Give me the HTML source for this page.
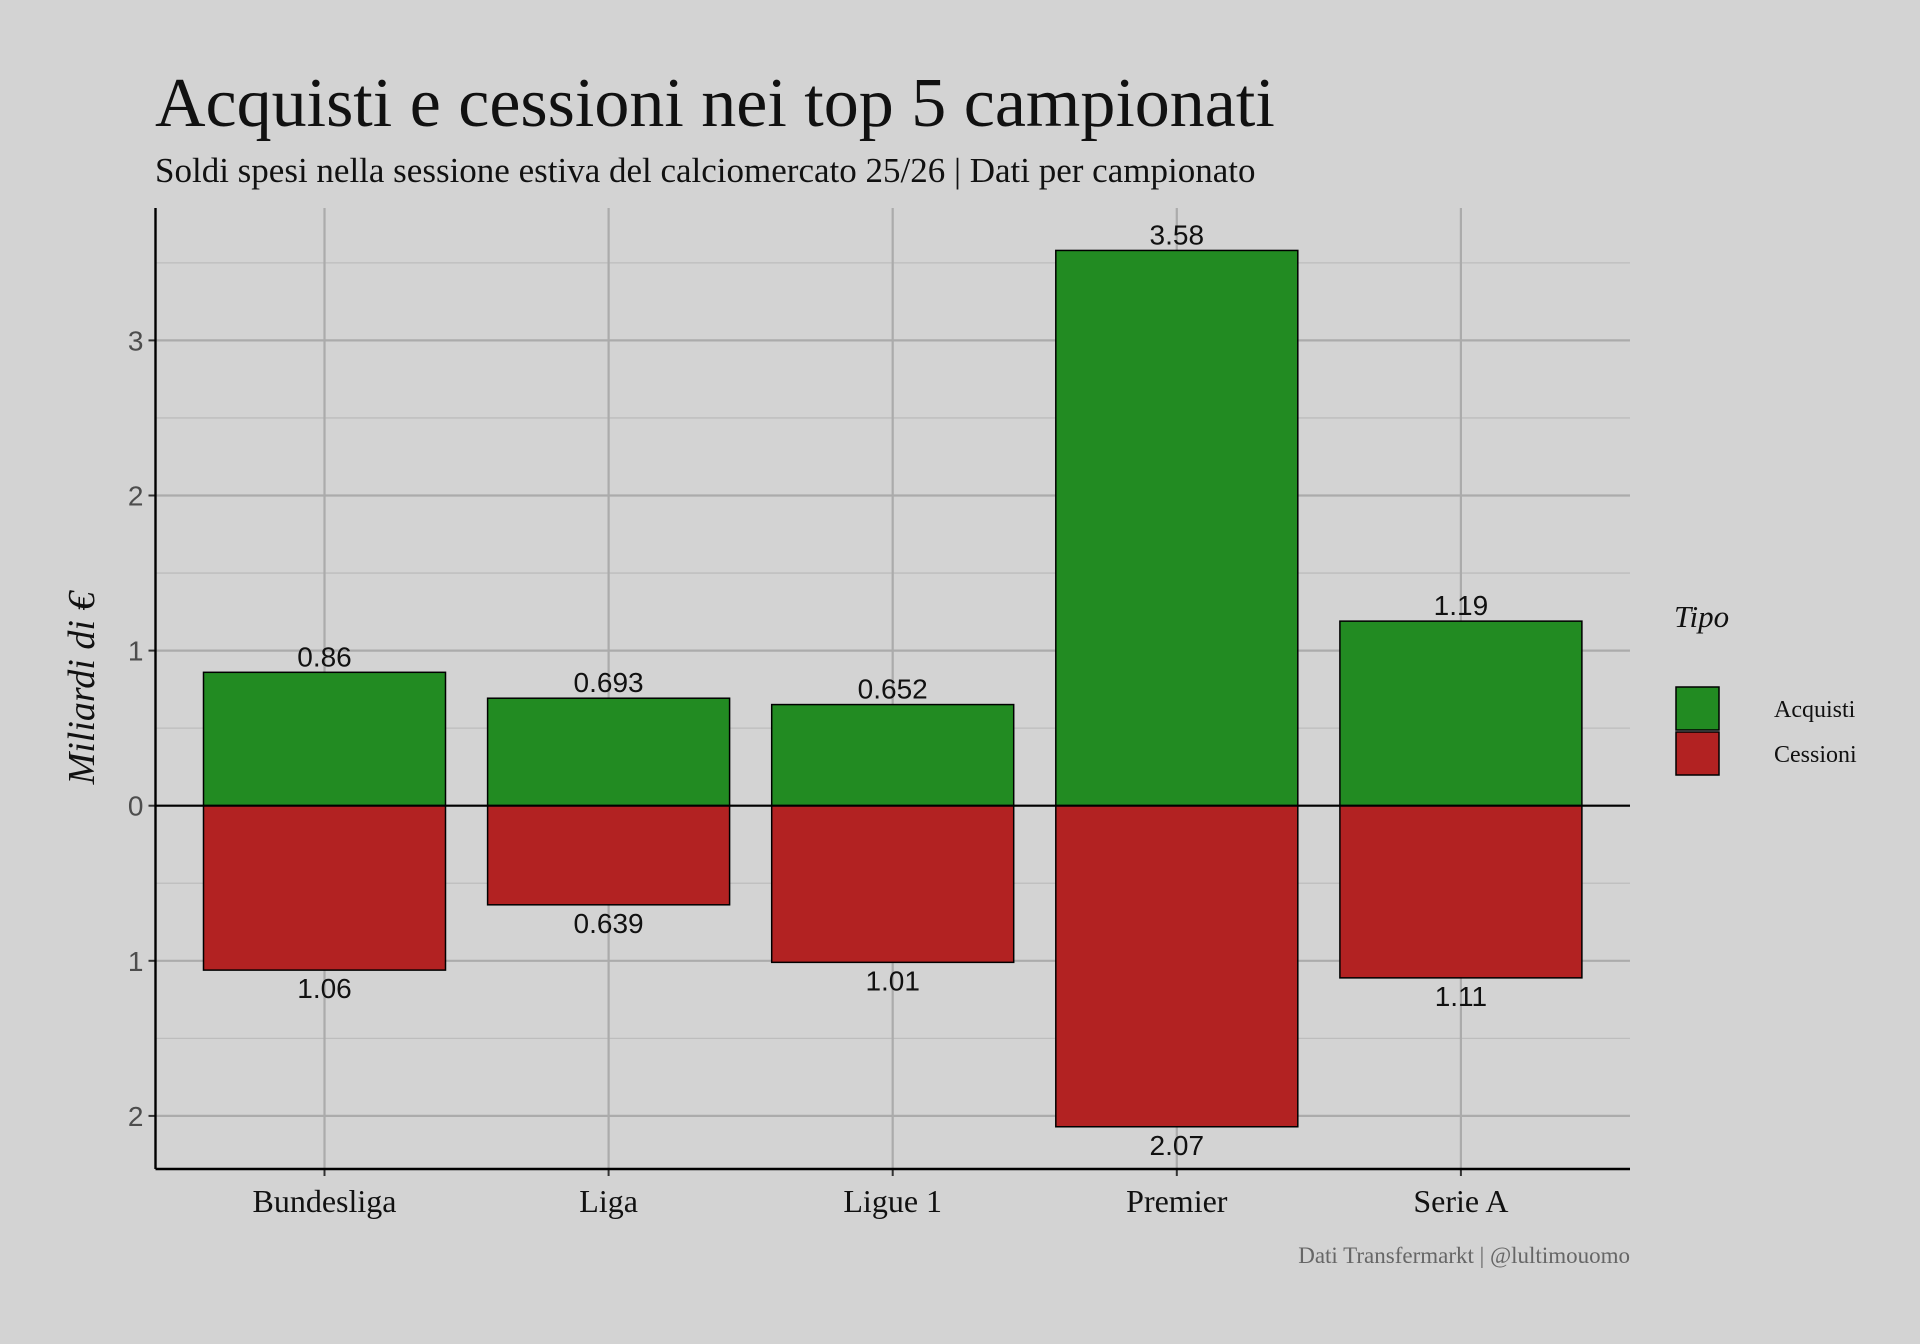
<!DOCTYPE html>
<html><head><meta charset="utf-8"><style>
html,body{margin:0;padding:0;background:#d3d3d3;}
svg{display:block;}
</style></head><body>
<svg id="chart" width="1920" height="1344" xmlns="http://www.w3.org/2000/svg">
<rect width="1920" height="1344" fill="#d3d3d3"/>
<text x="155" y="126" font-family="Liberation Serif, serif" font-size="70" fill="#111">Acquisti e cessioni nei top 5 campionati</text>
<text x="155" y="182" font-family="Liberation Serif, serif" font-size="35" fill="#111">Soldi spesi nella sessione estiva del calciomercato 25/26 | Dati per campionato</text>
<g id="grid"></g>
<g id="bars"></g>
<g id="axes"></g>
<text transform="translate(94,688) rotate(-90)" text-anchor="middle" font-family="Liberation Serif, serif" font-style="italic" font-size="38" fill="#111">Miliardi di €</text>
<g>
<text x="1674" y="627" font-family="Liberation Serif, serif" font-style="italic" font-size="31" fill="#111">Tipo</text>
<rect x="1676" y="687" width="43" height="43" fill="#228b22" stroke="#000" stroke-width="1.5"/>
<rect x="1676" y="732" width="43" height="43" fill="#b22222" stroke="#000" stroke-width="1.5"/>
<text x="1774" y="717" font-family="Liberation Serif, serif" font-size="24" fill="#111">Acquisti</text>
<text x="1774" y="762" font-family="Liberation Serif, serif" font-size="24" fill="#111">Cessioni</text>
</g>
<text x="1630" y="1263" text-anchor="end" font-family="Liberation Serif, serif" font-size="23" fill="#666">Dati Transfermarkt | @lultimouomo</text>
</svg>
<script>
const categories = ["Bundesliga","Liga","Ligue 1","Premier","Serie A"];
const acquisti = [0.86, 0.693, 0.652, 3.58, 1.19];
const cessioni = [1.06, 0.639, 1.01, 2.07, 1.11];
const acquistiLabels = ["0.86","0.693","0.652","3.58","1.19"];
const cessioniLabels = ["1.06","0.639","1.01","2.07","1.11"];
const yTicks = [-2,-1,0,1,2,3];
const yTickLabels = ["2","1","0","1","2","3"];
const yMinor = [-1.5,-0.5,0.5,1.5,2.5,3.5];

const NS="http://www.w3.org/2000/svg";
const pl=155.5, pr=1630, pt=208, pb=1169;
const zeroY=805.7, unit=155.1;
const y = v => zeroY - v*unit;
const step=284.1, x0=324.5, bw=242;
const x = i => x0 + i*step;
function mk(tag, attrs, parent){const e=document.createElementNS(NS,tag);for(const k in attrs)e.setAttribute(k,attrs[k]);parent.appendChild(e);return e;}
const grid=document.getElementById('grid'), bars=document.getElementById('bars'), axes=document.getElementById('axes');
yMinor.forEach(v=>{const l=mk('line',{x1:pl,x2:pr,y1:y(v),y2:y(v),stroke:'#bdbdbd','stroke-width':1.3},grid);

});
yTicks.forEach((v,i)=>{const l=mk('line',{x1:pl,x2:pr,y1:y(v),y2:y(v),stroke:'#ababab','stroke-width':2.2},grid);


const t=mk('line',{x1:pl-7,x2:pl,y1:y(v),y2:y(v),stroke:'#333','stroke-width':2},axes);


const tx=mk('text',{x:pl-12,y:y(v)+10,'text-anchor':'end','font-family':'Liberation Sans, sans-serif','font-size':28,fill:'#4d4d4d'},axes);
tx.textContent=yTickLabels[i];

});
categories.forEach((c,i)=>{const l=mk('line',{x1:x(i),x2:x(i),y1:pt,y2:pb,stroke:'#ababab','stroke-width':2.2},grid);


const g=mk('rect',{x:x(i)-bw/2,y:y(acquisti[i]),width:bw,height:y(0)-y(acquisti[i]),fill:'#228b22',stroke:'#000','stroke-width':1.5},bars);


const r=mk('rect',{x:x(i)-bw/2,y:y(0),width:bw,height:y(-cessioni[i])-y(0),fill:'#b22222',stroke:'#000','stroke-width':1.5},bars);


const a=mk('text',{x:x(i),y:y(acquisti[i])-6,'text-anchor':'middle','font-family':'Liberation Sans, sans-serif','font-size':28,fill:'#111'},bars);
a.textContent=acquistiLabels[i];


const b=mk('text',{x:x(i),y:y(-cessioni[i])+28,'text-anchor':'middle','font-family':'Liberation Sans, sans-serif','font-size':28,fill:'#111'},bars);
b.textContent=cessioniLabels[i];


const t=mk('line',{x1:x(i),x2:x(i),y1:pb,y2:pb+7,stroke:'#333','stroke-width':2},axes);


const tx=mk('text',{x:x(i),y:1212,'text-anchor':'middle','font-family':'Liberation Serif, serif','font-size':32,fill:'#111'},axes);
tx.textContent=c;

});
const z=mk('line',{x1:pl,x2:pr,y1:y(0),y2:y(0),stroke:'#000','stroke-width':2.2},bars);


const ya=mk('line',{x1:pl,x2:pl,y1:pt,y2:pb,stroke:'#000','stroke-width':2.4},axes);


const xa=mk('line',{x1:pl,x2:pr,y1:pb,y2:pb,stroke:'#000','stroke-width':2.4},axes);


</script>
</body></html>
